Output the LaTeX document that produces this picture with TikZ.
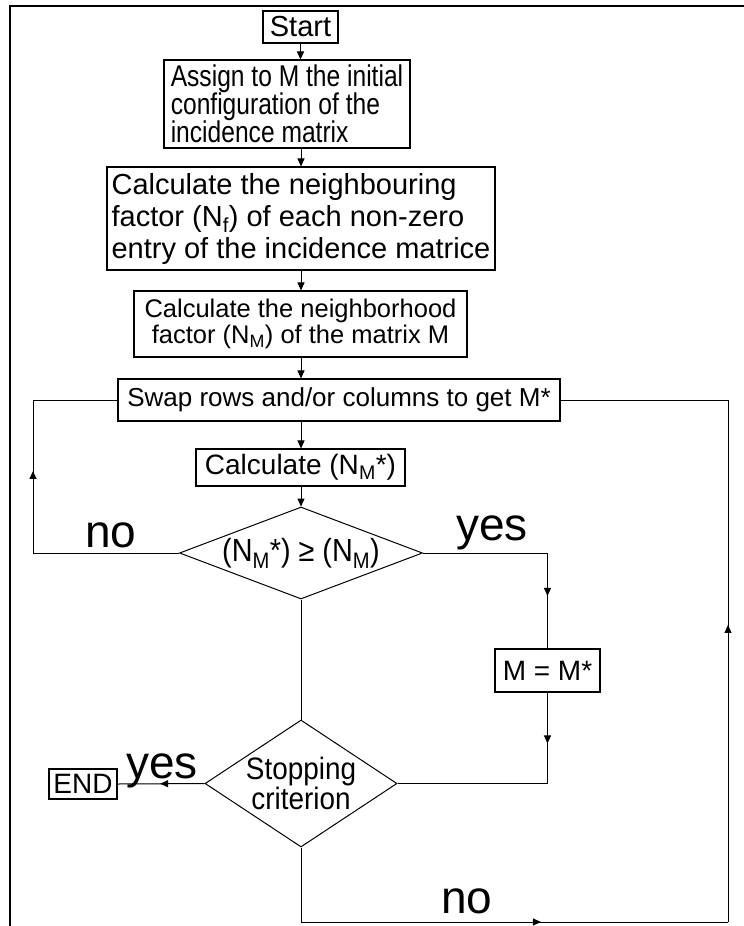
\documentclass[tikz,border=0pt]{standalone}
\usepackage{fontspec}
\setmainfont{Liberation Sans}
\newfontfamily\narrowsans{Liberation Sans}[FakeStretch=0.82]
\newfontfamily\semisans{Liberation Sans}[FakeStretch=0.9]
\usetikzlibrary{shapes.geometric,arrows.meta,decorations.markings}
\begin{document}
\begin{tikzpicture}[x=1pt,y=-1pt,
  box/.style={draw,line width=1.1pt,inner sep=0pt,align=center},
  conn/.style={line width=1pt},
  arr/.style={conn,-{Triangle[width=7pt,length=8pt]}},
  midarr/.style={conn,postaction={decorate},decoration={markings,mark=at position #1 with {\arrow{Triangle[width=7pt,length=8pt]}}}},
  dia/.style={draw,diamond,line width=1pt,inner sep=0pt},
  lbl/.style={font=\fontsize{46}{46}\selectfont,inner sep=0pt,anchor=base}
]
\useasboundingbox (0,0) rectangle (744,926);
\draw[line width=2.5pt] (10,926) -- (10,6) -- (744,6);

\node[box,minimum width=75,minimum height=32,font=\fontsize{29}{30}\selectfont] (start) at (300.5,27) {Start};
\node[box,minimum width=246,minimum height=88,align=left,font=\narrowsans\fontsize{30}{28}\selectfont] (b1) at (287,104) {Assign to M the initial\\configuration of the\\incidence matrix};
\node[box,minimum width=388,minimum height=103,align=left,font=\fontsize{29}{32}\selectfont] (b2) at (301,218.5) {Calculate the neighbouring\\factor (N\textsubscript{f}) of each non-zero\\entry of the incidence matrice};
\node[box,minimum width=333,minimum height=66,font=\fontsize{25.5}{26}\selectfont] (b3) at (300.5,324) {Calculate the neighborhood\\factor (N\textsubscript{M}) of the matrix M};
\node[box,minimum width=442,minimum height=42,font=\fontsize{26}{28}\selectfont] (swap) at (339,400) {Swap rows and/or columns to get M*};
\node[box,minimum width=209,minimum height=37,font=\fontsize{28}{30}\selectfont] (calc) at (300.5,467.5) {Calculate (N\textsubscript{M}*)};
\node[dia,minimum width=243,minimum height=92] (d1) at (301,553) {};
\node[font=\semisans\fontsize{32}{32}\selectfont,inner sep=0pt] (d1t) at (d1.center) {(N\textsubscript{M}*) ≥ (N\textsubscript{M})};
\node[dia,minimum width=192,minimum height=127] (d2) at (301,783.5) {};
\node[font=\semisans\fontsize{31}{28}\selectfont,align=center,inner sep=0pt] (d2t) at (d2.center) {Stopping\\criterion};
\node[box,minimum width=105,minimum height=43,font=\fontsize{28}{30}\selectfont] (mm) at (547.5,670.5) {M = M*};
\node[box,minimum width=68,minimum height=30,font=\fontsize{28}{30}\selectfont] (endn) at (83,784) {END};

\coordinate (colx) at (301,0);
\coordinate (lc1) at (33,553);
\coordinate (lc2) at (33,400);
\coordinate (bc1) at (301,922);
\coordinate (bc2) at (728,922);
\coordinate (bc3) at (728,400);

\draw[arr] (start.south) -- (start.south |- b1.north);
\draw[arr] (colx |- b1.south) -- (colx |- b2.north);
\draw[arr] (colx |- b2.south) -- (colx |- b3.north);
\draw[arr] (colx |- b3.south) -- (colx |- swap.north);
\draw[arr] (colx |- swap.south) -- (colx |- calc.north);
\draw[arr] (colx |- calc.south) -- (d1.north);

\draw[conn] (d1.west) -- (lc1);
\draw[midarr=0.536] (lc1) -- (lc2);
\draw[conn] (lc2) -- (swap.west);

\draw[conn] (d1.east) -- (d1.east -| mm.north);
\draw[midarr=0.45] (d1.east -| mm.north) -- (mm.north);
\draw[midarr=0.56] (mm.south) -- (mm.south |- d2.east);
\draw[conn] (mm.south |- d2.east) -- (d2.east);

\draw[conn] (d1.south) -- (d2.north);
\draw[midarr=0.51] (d2.west) -- (endn.east);

\draw[conn] (d2.south) -- (bc1);
\draw[midarr=0.562] (bc1) -- (bc2);
\draw[midarr=0.569] (bc2) -- (bc3);
\draw[conn] (bc3) -- (swap.east);

\node[lbl] (lno1) at (111,547) {no};
\node[lbl] (lyes1) at (492,540) {yes};
\node[lbl] (lyes2) at (162,778) {yes};
\node[lbl] (lno2) at (467,913) {no};
\end{tikzpicture}
\end{document}
